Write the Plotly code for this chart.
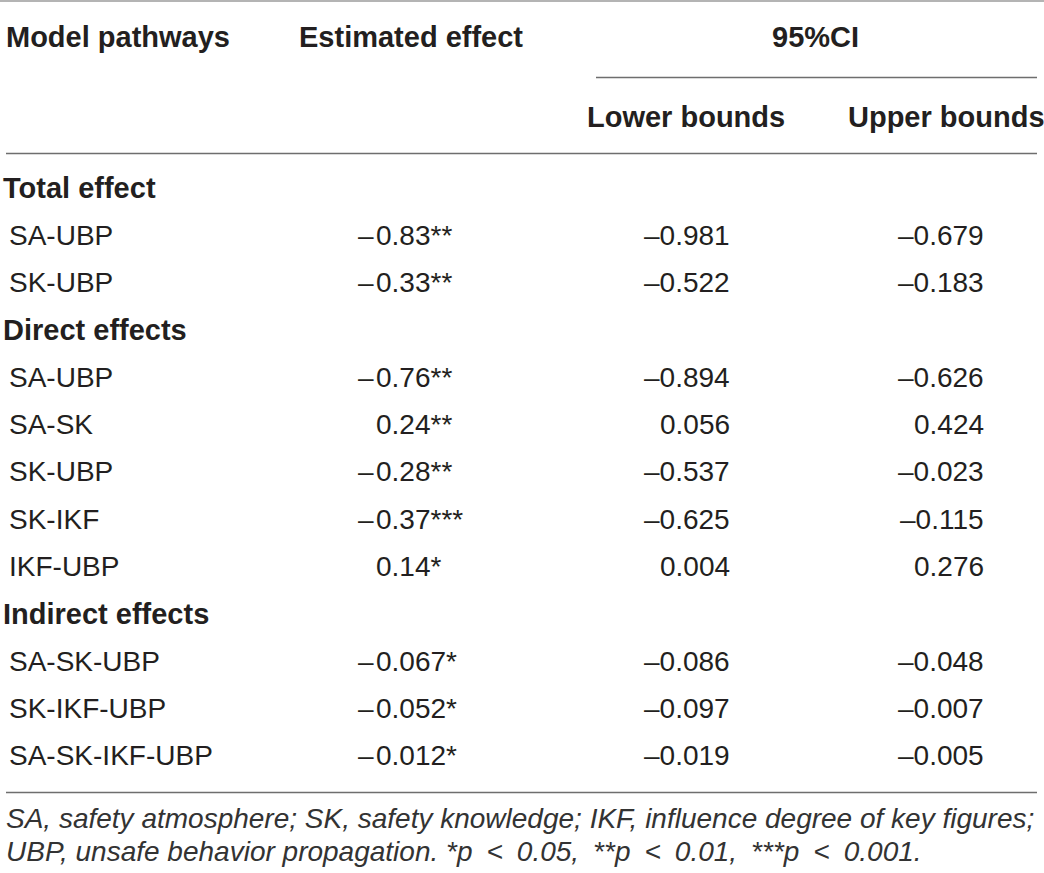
import plotly.graph_objects as go

# ---- data ----
section_names = ["Total effect", "Direct effects", "Indirect effects"]
section_sizes = [2, 5, 3]
pathways = ["SA-UBP", "SK-UBP",
            "SA-UBP", "SA-SK", "SK-UBP", "SK-IKF", "IKF-UBP",
            "SA-SK-UBP", "SK-IKF-UBP", "SA-SK-IKF-UBP"]
estimates = [-0.83, -0.33, -0.76, 0.24, -0.28, -0.37, 0.14, -0.067, -0.052, -0.012]
stars = ["**", "**", "**", "**", "**", "***", "*", "*", "*", "*"]
lower = [-0.981, -0.522, -0.894, 0.056, -0.537, -0.625, 0.004, -0.086, -0.097, -0.019]
upper = [-0.679, -0.183, -0.626, 0.424, -0.023, -0.115, 0.276, -0.048, -0.007, -0.005]
col_headers = ["Model pathways", "Estimated effect", "95%CI", "Lower bounds", "Upper bounds"]
footnote = ["SA, safety atmosphere; SK, safety knowledge; IKF, influence degree of key figures;",
            "UBP, unsafe behavior propagation. *p\u2002<\u20020.05,\u2002**p\u2002<\u20020.01,\u2002***p\u2002<\u20020.001."]

DASH = "\u2013"
FONT = "Liberation Sans"
TXT = "#231f20"
W, H = 1044, 873
BODY = 28
BOLD = 29


def fmt3(v):
    s = f"{abs(v):.3f}"
    return (DASH if v < 0 else "") + s


fig = go.Figure()
fig.add_trace(go.Scatter(x=[0, W], y=[0, H], mode="markers",
                         marker=dict(opacity=0), hoverinfo="skip", showlegend=False))

ann = []


def add(text, x, y, xanchor="left", size=BODY, bold=False, italic=False, color=TXT):
    t = text
    if bold:
        t = "<b>" + t + "</b>"
    if italic:
        t = "<i>" + t + "</i>"
    ann.append(dict(text=t, x=x, y=y, xref="x", yref="y", xanchor=xanchor, yanchor="middle",
                    showarrow=False, borderpad=0,
                    font=dict(family=FONT, size=size, color=color)))


# headers
add(col_headers[0], 5, 37, bold=True, size=BOLD)
add(col_headers[1], 298, 37, bold=True, size=BOLD)
add(col_headers[2], 815, 37, xanchor="center", bold=True, size=BOLD)
add(col_headers[3], 686, 117, xanchor="center", bold=True, size=BOLD)
add(col_headers[4], 946, 117, xanchor="center", bold=True, size=BOLD)

# body rows
row0 = 188.0
step = 47.3
r = 0
k = 0
for name, n in zip(section_names, section_sizes):
    add(name, 2, row0 + step * r, bold=True, size=BOLD)
    r += 1
    for _ in range(n):
        y = row0 + step * r
        add(pathways[k], 8, y)
        v = estimates[k]
        if v < 0:
            add(DASH, 375, y, xanchor="right")
        add(f"{abs(v)}" + stars[k], 375, y)
        add(fmt3(lower[k]), 731, y, xanchor="right")
        add(fmt3(upper[k]), 985, y, xanchor="right")
        r += 1
        k += 1

# footnote
add(footnote[0], 5, 818, italic=True, size=28, color="#333333")
add(footnote[1], 5, 851, italic=True, size=28, color="#333333")

lc = "#6e6e6e"
shapes = [
    dict(type="line", x0=0, x1=W, y0=1, y1=1, xref="x", yref="y", line=dict(color="#b4b4b4", width=2)),
    dict(type="line", x0=596, x1=1037, y0=77.5, y1=77.5, xref="x", yref="y", line=dict(color=lc, width=1.6)),
    dict(type="line", x0=6, x1=1037, y0=153.5, y1=153.5, xref="x", yref="y", line=dict(color=lc, width=1.6)),
    dict(type="line", x0=6, x1=1037, y0=792.5, y1=792.5, xref="x", yref="y", line=dict(color=lc, width=1.6)),
]

fig.update_layout(
    width=W, height=H,
    margin=dict(l=0, r=0, t=0, b=0),
    paper_bgcolor="white", plot_bgcolor="white",
    xaxis=dict(range=[0, W], visible=False, fixedrange=True),
    yaxis=dict(range=[H, 0], visible=False, fixedrange=True),
    annotations=ann, shapes=shapes, showlegend=False,
)

fig.write_html("out.html", config={"displayModeBar": False},
               post_script="document.body.style.margin='0px';document.body.style.overflow='hidden';")
